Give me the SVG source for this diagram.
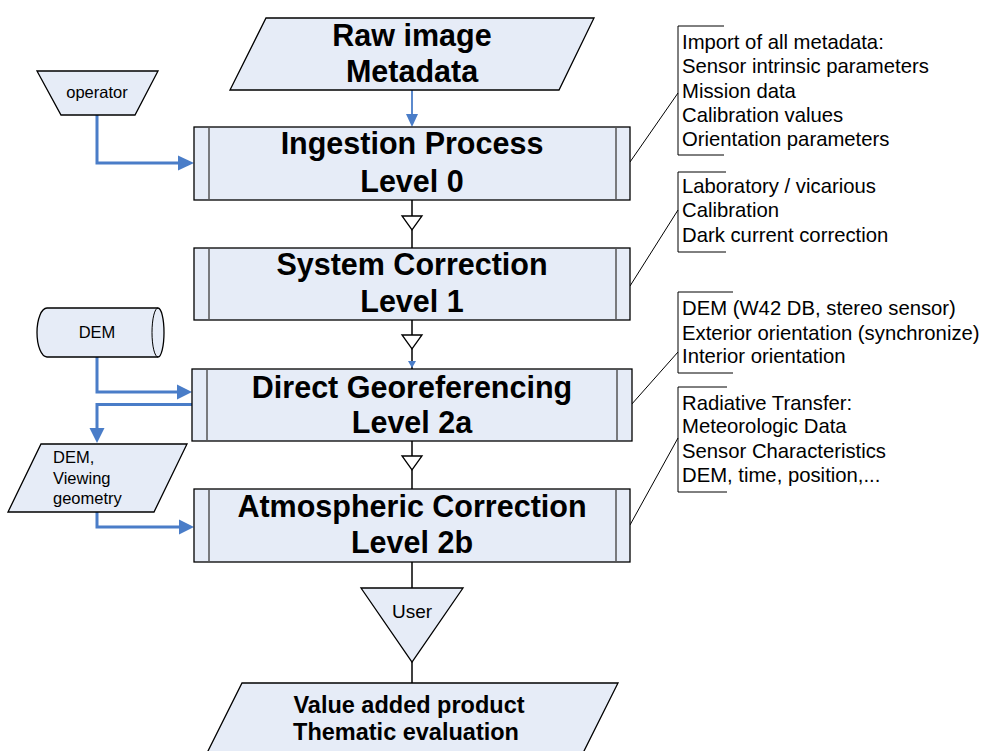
<svg xmlns="http://www.w3.org/2000/svg" width="982" height="751" viewBox="0 0 982 751">
<defs>
<style>
.shape{fill:#E6ECF7;stroke:#000;stroke-width:1.3}
.inner{stroke:#555;stroke-width:1.5}
.big{font-family:"Liberation Sans",Arial,sans-serif;font-weight:bold;font-size:30.5px;text-anchor:middle;fill:#000}
.mid{font-family:"Liberation Sans",Arial,sans-serif;font-size:16.5px;fill:#000}
.note{font-family:"Liberation Sans",Arial,sans-serif;font-size:20.3px;fill:#000}
.blue{fill:none;stroke:#4A7DC8;stroke-width:3}
.bluethin{fill:none;stroke:#4A7DC8;stroke-width:1.8}
.black{fill:none;stroke:#000;stroke-width:1.5}
.thin{fill:none;stroke:#000;stroke-width:1}
.tri{fill:#fff;stroke:#000;stroke-width:1.3}
.bh{fill:#4A7DC8}
</style>
</defs>
<rect width="982" height="751" fill="#fff"/>

<g id="connectors">
<!-- raw -> ingestion -->
<line class="bluethin" x1="412" y1="90" x2="412" y2="116"/>
<polygon class="bh" points="406,114 418,114 412,127"/>
<!-- operator -> ingestion -->
<polyline class="blue" points="97,115 97,163 180,163"/>
<polygon class="bh" points="178,155.5 194,163 178,170.5"/>
<!-- ingestion -> system -->
<line class="black" x1="412" y1="200" x2="412" y2="248"/>
<polygon class="tri" points="402,216 422,216 412,230"/>
<!-- system -> direct -->
<line class="black" x1="412" y1="320" x2="412" y2="369"/>
<polygon class="tri" points="402,335 422,335 412,349"/>
<polygon class="bh" points="408,361 416,361 412,368"/>
<!-- DEM -> direct -->
<polyline class="blue" points="97,357 97,392 178,392"/>
<polygon class="bh" points="177,384.5 192,392 177,399.5"/>
<!-- direct -> DEM viewing -->
<polyline class="blue" points="194,404.5 97,404.5 97,430"/>
<polygon class="bh" points="89.5,428 104.5,428 97,443"/>
<!-- direct -> atmos -->
<line class="black" x1="412" y1="441" x2="412" y2="489"/>
<polygon class="tri" points="402,456 422,456 412,470"/>
<!-- DEM viewing -> atmos -->
<polyline class="blue" points="97,512 97,527 180,527"/>
<polygon class="bh" points="179,519.5 194,527 179,534.5"/>
<!-- atmos -> user -> value -->
<line class="black" x1="412" y1="562" x2="412" y2="588"/>
<line class="black" x1="412" y1="662" x2="412" y2="683"/>
<!-- annotation leaders -->
<line class="thin" x1="630" y1="162" x2="678" y2="93"/>
<line class="thin" x1="630" y1="286" x2="678" y2="210"/>
<line class="thin" x1="631" y1="405" x2="678" y2="352"/>
<line class="thin" x1="630" y1="525" x2="678" y2="438"/>
</g>

<g id="raw">
<polygon class="shape" points="266,18 594,18 559,90 230,90"/>
<text class="big" x="412" y="46">Raw image</text>
<text class="big" x="412" y="82">Metadata</text>
</g>

<g id="operator">
<polygon class="shape" points="37,71 158,71 135,115 61,115"/>
<text class="mid" x="97" y="98" text-anchor="middle">operator</text>
</g>

<g id="ingestion">
<rect class="shape" x="194" y="127" width="436" height="73"/>
<line class="inner" x1="209" y1="127" x2="209" y2="200"/>
<line class="inner" x1="616" y1="127" x2="616" y2="200"/>
<text class="big" x="412" y="154">Ingestion Process</text>
<text class="big" x="412" y="192">Level 0</text>
</g>

<g id="system">
<rect class="shape" x="194" y="248" width="436" height="72"/>
<line class="inner" x1="209" y1="248" x2="209" y2="320"/>
<line class="inner" x1="616" y1="248" x2="616" y2="320"/>
<text class="big" x="412" y="275">System Correction</text>
<text class="big" x="412" y="312">Level 1</text>
</g>

<g id="dem">
<path class="shape" d="M47,308 L158,308 A6,24.5 0 0 1 158,357 L47,357 A10,24.5 0 0 1 47,308 Z"/>
<path class="thin" d="M158,308 A6,24.5 0 0 0 158,357"/>
<text class="mid" x="97" y="338" text-anchor="middle">DEM</text>
</g>

<g id="direct">
<rect class="shape" x="192" y="369" width="440" height="72"/>
<line class="inner" x1="207" y1="369" x2="207" y2="441"/>
<line class="inner" x1="617" y1="369" x2="617" y2="441"/>
<text class="big" x="412" y="398">Direct Georeferencing</text>
<text class="big" x="412" y="433">Level 2a</text>
</g>

<g id="demview">
<polygon class="shape" points="41,444 187,444 154,512 8,512"/>
<text class="mid" x="53" y="463">DEM,</text>
<text class="mid" x="53" y="484">Viewing</text>
<text class="mid" x="53" y="504">geometry</text>
</g>

<g id="atmos">
<rect class="shape" x="194" y="489" width="436" height="73"/>
<line class="inner" x1="209" y1="489" x2="209" y2="562"/>
<line class="inner" x1="616" y1="489" x2="616" y2="562"/>
<text class="big" x="412" y="517">Atmospheric Correction</text>
<text class="big" x="412" y="553">Level 2b</text>
</g>

<g id="user">
<polygon class="shape" points="361,588 463,588 412,662"/>
<text class="mid" x="412" y="618" text-anchor="middle" style="font-size:19px">User</text>
</g>

<g id="value">
<polygon class="shape" points="242,683 618,683 579,761 203,761"/>
<text class="big" x="409" y="713" style="font-size:23.5px">Value added product</text>
<text class="big" x="406" y="740" style="font-size:23.5px">Thematic evaluation</text>
</g>

<g id="note1">
<polyline class="thin" points="724,26 678,26 678,155 724,155"/>
<text class="note" x="682" y="49">Import of all metadata:</text>
<text class="note" x="682" y="73">Sensor intrinsic parameters</text>
<text class="note" x="682" y="97.5">Mission data</text>
<text class="note" x="682" y="122">Calibration values</text>
<text class="note" x="682" y="146">Orientation parameters</text>
</g>

<g id="note2">
<polyline class="thin" points="726,172 678,172 678,252 726,252"/>
<text class="note" x="682" y="193">Laboratory / vicarious</text>
<text class="note" x="682" y="217">Calibration</text>
<text class="note" x="682" y="242">Dark current correction</text>
</g>

<g id="note3">
<polyline class="thin" points="733,292 678,292 678,373 733,373"/>
<text class="note" x="682" y="315">DEM (W42 DB, stereo sensor)</text>
<text class="note" x="682" y="340">Exterior orientation (synchronize)</text>
<text class="note" x="682" y="363">Interior orientation</text>
</g>

<g id="note4">
<polyline class="thin" points="727,387 678,387 678,492 727,492"/>
<text class="note" x="682" y="410">Radiative Transfer:</text>
<text class="note" x="682" y="433">Meteorologic Data</text>
<text class="note" x="682" y="458">Sensor Characteristics</text>
<text class="note" x="682" y="482">DEM, time, position,...</text>
</g>
</svg>
